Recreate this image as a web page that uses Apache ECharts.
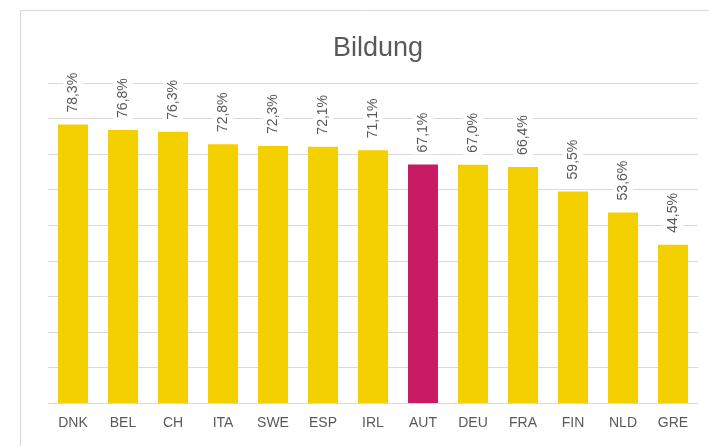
<!DOCTYPE html>
<html>
<head>
<meta charset="utf-8">
<script src="https://cdn.jsdelivr.net/npm/echarts@6/dist/echarts.min.js"></script>
<style>
  html, body { margin: 0; padding: 0; background: #fff; }
  #chart { width: 709px; height: 446px; }
</style>
</head>
<body>
<div id="chart"></div>
<script>
const countries = ['DNK', 'BEL', 'CH', 'ITA', 'SWE', 'ESP', 'IRL', 'AUT', 'DEU', 'FRA', 'FIN', 'NLD', 'GRE']
const shares = [78.3, 76.8, 76.3, 72.8, 72.3, 72.1, 71.1, 67.1, 67.0, 66.4, 59.5, 53.6, 44.5]
const highlight = 'AUT'

const yellow = '#F5D000'
const magenta = '#C81B64'
const textGray = '#595959'
const lineGray = '#d9d9d9'

const chart = echarts.init(document.getElementById('chart'))

chart.setOption({
  backgroundColor: '#fff',
  animation: false,
  title: {
    text: 'Bildung',
    left: 373,
    top: 30,
    textAlign: 'center',
    textStyle: { fontFamily: 'Liberation Sans', fontWeight: 'normal', fontSize: 27, color: textGray },
  },
  // outer frame of the chart area
  graphic: [
    {
      type: 'polyline',
      shape: { points: [[20.5, 460], [20.5, 10.5], [720, 10.5]] },
      style: { stroke: lineGray, lineWidth: 1, fill: null },
    },
  ],
  grid: { left: 48, right: 11, top: 83, bottom: 43 },
  xAxis: {
    type: 'category',
    data: countries,
    axisLine: { lineStyle: { color: lineGray } },
    axisTick: { show: false },
    axisLabel: { color: textGray, fontSize: 14, fontFamily: 'Liberation Sans', margin: 13 },
  },
  yAxis: {
    type: 'value',
    min: 0,
    max: 90,
    interval: 10,
    axisLine: { show: false },
    axisTick: { show: false },
    axisLabel: { show: false },
    splitLine: { lineStyle: { color: lineGray } },
  },
  series: [
    {
      type: 'bar',
      barWidth: '60%',
      data: shares.map((v, i) => ({
        value: v,
        itemStyle: { color: countries[i] === highlight ? magenta : yellow },
      })),
      label: {
        show: true,
        position: 'top',
        rotate: 90,
        align: 'left',
        verticalAlign: 'middle',
        distance: 10,
        color: textGray,
        fontSize: 14,
        fontFamily: 'Liberation Sans',
        backgroundColor: '#fff',
        padding: [3, 2, 3, 2],
        formatter: (p) => p.value.toFixed(1).replace('.', ',') + '%',
      },
    },
  ],
})
</script>
</body>
</html>
